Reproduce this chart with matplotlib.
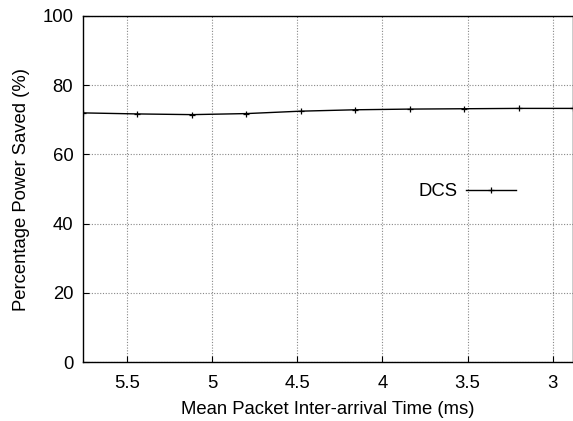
import matplotlib
matplotlib.use("Agg")
import matplotlib.pyplot as plt

plt.rcParams['font.family'] = ['Liberation Sans', 'DejaVu Sans']

# inter-arrival time (ms) and power saved (%)
arrival_ms = [5.76, 5.44, 5.12, 4.80, 4.48, 4.16, 3.84, 3.52, 3.20, 2.88]
dcs_saved = [72.0, 71.7, 71.5, 71.8, 72.5, 72.9, 73.1, 73.2, 73.3, 73.3]
xticks = [5.5, 5, 4.5, 4, 3.5, 3]
yticks = [0, 20, 40, 60, 80, 100]

fs = 13.3

fig = plt.figure(figsize=(5.73, 4.21), dpi=100)
ax = fig.add_axes([0.1449, 0.140, 0.8551, 0.822])

ax.plot(arrival_ms, dcs_saved, color='black', lw=1.0, marker='+',
        markersize=5, markeredgewidth=0.9, label='DCS')

ax.set_xlim(5.76, 2.88)
ax.set_ylim(0, 100)
ax.set_xticks(xticks)
ax.set_xticklabels(['5.5', '5', '4.5', '4', '3.5', '3'])
ax.set_yticks(yticks)
ax.grid(True, color='#888888', linestyle=(0, (1, 1.5)), lw=0.8)
ax.tick_params(direction='in', length=4, labelsize=fs, top=False, right=False)
ax.tick_params(axis='x', pad=9)
ax.tick_params(axis='y', pad=7)
for s in ax.spines.values():
    s.set_linewidth(1.0)

ax.set_xlabel('Mean Packet Inter-arrival Time (ms)', fontsize=fs, labelpad=7)
ax.set_ylabel('Percentage Power Saved (%)', fontsize=fs, labelpad=9)

leg = ax.legend(loc='upper right', bbox_to_anchor=(0.917, 0.565), frameon=False,
                fontsize=fs, markerfirst=False, handlelength=2.7, handletextpad=0.45)

fig.savefig('out.png', dpi=100)
